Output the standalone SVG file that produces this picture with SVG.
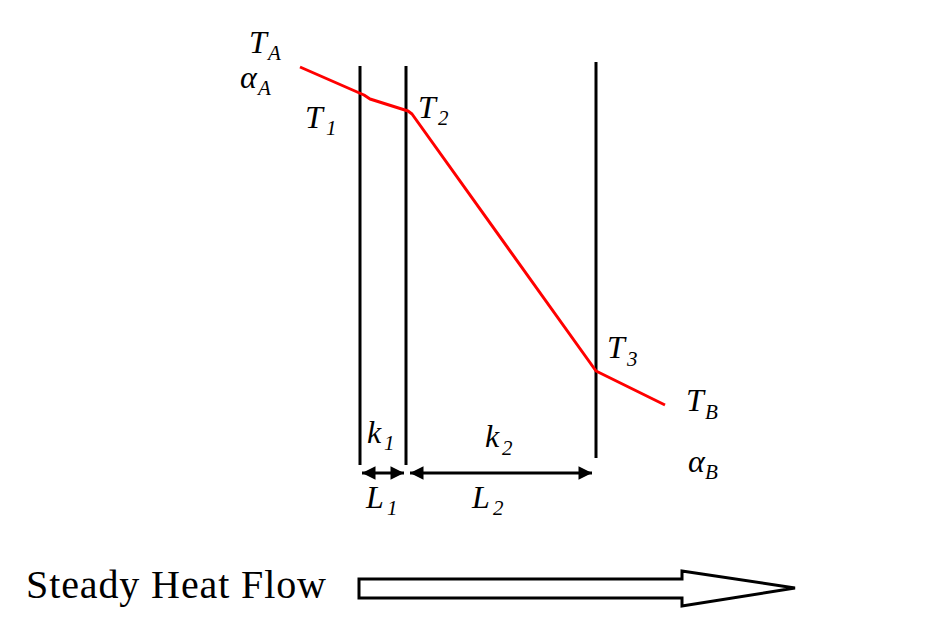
<svg xmlns="http://www.w3.org/2000/svg" width="943" height="626" viewBox="0 0 943 626">
<defs>
<marker id="ah" viewBox="0 0 10 10" refX="10" refY="5" markerWidth="6" markerHeight="4.5" orient="auto-start-reverse" markerUnits="strokeWidth">
<path d="M0,0 L10,5 L0,10 z" fill="#000"/>
</marker>
</defs>
<style>
.wall{stroke:#000;stroke-width:3;fill:none}
.temp{stroke:#ff0000;stroke-width:3;fill:none;stroke-linejoin:round}
.dim{stroke:#000;stroke-width:3;fill:none}
</style>
<rect width="943" height="626" fill="#fff"/>
<g id="walls">
<line class="wall" x1="360" y1="66" x2="360" y2="465"/>
<line class="wall" x1="406" y1="66" x2="406" y2="465"/>
<line class="wall" x1="596" y1="62" x2="596" y2="458"/>
</g>
<g id="connectors">
<polyline class="temp" points="300,67 364,95 370,99 408,111 412,114 596,371 665,405"/>
<line class="dim" x1="362" y1="473" x2="404" y2="473" marker-start="url(#ah)" marker-end="url(#ah)"/>
<line class="dim" x1="410" y1="473" x2="592" y2="473" marker-start="url(#ah)" marker-end="url(#ah)"/>
</g>
<g id="labels" font-family="Liberation Serif, DejaVu Serif, serif" font-style="italic" font-size="32" fill="#000">
<text x="249" y="53">T<tspan font-size="21" x="268" y="60">A</tspan></text>
<text x="240" y="88">α<tspan font-size="21" x="258" y="95">A</tspan></text>
<text x="305" y="128">T<tspan font-size="21" x="326" y="135">1</tspan></text>
<text x="418" y="118">T<tspan font-size="21" x="438" y="125">2</tspan></text>
<text x="607" y="358">T<tspan font-size="21" x="627" y="366">3</tspan></text>
<text x="686" y="411">T<tspan font-size="21" x="705" y="419">B</tspan></text>
<text x="688" y="472">α<tspan font-size="21" x="705" y="479">B</tspan></text>
<text x="367" y="443">k<tspan font-size="21" x="384" y="450">1</tspan></text>
<text x="485" y="447">k<tspan font-size="21" x="502" y="455">2</tspan></text>
<text x="366" y="508">L<tspan font-size="21" x="387" y="515">1</tspan></text>
<text x="472" y="508">L<tspan font-size="21" x="493" y="515">2</tspan></text>
</g>
<g id="heatflow">
<text x="26" y="598" font-family="Liberation Serif, DejaVu Serif, serif" font-size="40" fill="#000" textLength="300">Steady Heat Flow</text>
<path d="M359,579 L682,579 L682,571 L795,588 L682,606 L682,598 L359,598 z" fill="#fff" stroke="#000" stroke-width="3" stroke-linejoin="miter"/>
</g>
</svg>
